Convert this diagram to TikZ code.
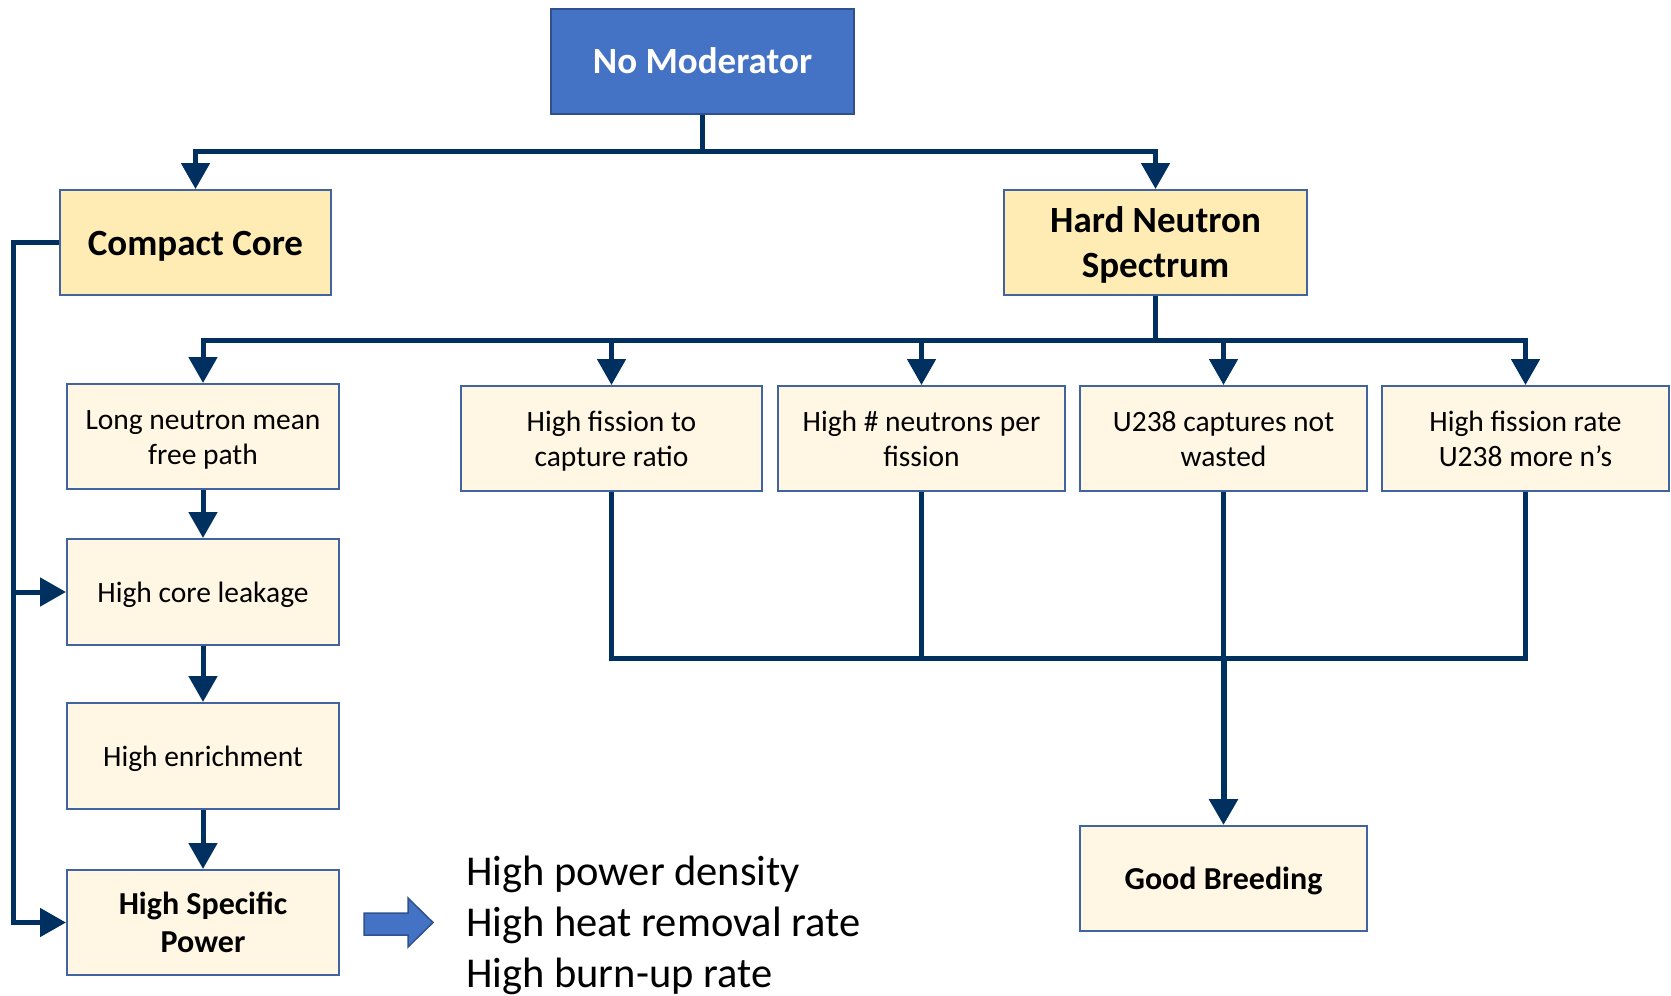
\documentclass[tikz,border=0pt]{standalone}
\usepackage{fontspec}
\setmainfont{Carlito}
\usetikzlibrary{arrows.meta}
\definecolor{navy}{HTML}{00305F}
\definecolor{boxborder}{HTML}{41649F}
\definecolor{lightfill}{HTML}{FFF7E3}
\definecolor{darkfill}{HTML}{FFECB5}
\definecolor{topfill}{HTML}{4472C4}
\definecolor{topborder}{HTML}{2F528F}
\newcommand\dn[1]{\raisebox{-3.5pt}[\height][\depth]{\begin{tabular}{@{}c@{}}#1\end{tabular}}}
\tikzset{
  box/.style={draw=boxborder, line width=2pt, fill=lightfill, inner sep=0pt,
    minimum width=#1, minimum height=105pt, font=\fontsize{29.5}{34.5}\selectfont},
  box/.default=287pt,
  headbox/.style={box=#1, fill=darkfill, font=\fontsize{37}{45}\selectfont\bfseries},
  boldbox/.style={box=#1, font=\fontsize{32}{38.5}\selectfont\bfseries},
  conn/.style={draw=navy, line width=5pt},
  arr/.style={conn, -{Triangle[width=28pt,length=26pt]}},
}
\begin{document}
\begin{tikzpicture}[x=1pt,y=-1pt]
\useasboundingbox (0,0) rectangle (1671,996);
% top
\node[box=303pt, fill=topfill, draw=topborder, text=white, font=\fontsize{37}{45}\selectfont\bfseries] (nomod) at (702.5,61) {\dn{No Moderator}};
\node[headbox=271pt] (compact) at (195.5,242.5) {\dn{Compact Core}};
\node[headbox=303pt] (hard) at (1155.5,242.5) {\dn{Hard Neutron\\Spectrum}};
% left column
\node[box=272pt] (lnm) at (203,436.5) {\dn{Long neutron mean\\free path}};
\node[box=272pt, minimum height=106pt] (leak) at (203,592) {\dn{High core leakage}};
\node[box=272pt, minimum height=106pt] (enr) at (203,756) {\dn{High enrichment}};
\node[boldbox=272pt] (hsp) at (203,922.5) {\dn{High Specific\\Power}};
% right row
\node[box=301pt] (fc) at (611.5,438.5) {\dn{High fission to\\capture ratio}};
\node[box] (nn) at (921.5,438.5) {\dn{High \# neutrons per\\fission}};
\node[box] (u238) at (1223.5,438.5) {\dn{U238 captures not\\wasted}};
\node[box] (hfr) at (1525.5,438.5) {\dn{High fission rate\\U238 more n’s}};
\node[boldbox=287pt] (gb) at (1223.5,878.5) {\dn{Good Breeding}};
% connectors top
\coordinate (b1) at (702.5,151);
\draw[conn] (nomod.south) -- (b1);
\draw[arr] (b1) -| (compact.north);
\draw[arr] (b1) -| (hard.north);
% second bus
\coordinate (b2) at (1155.5,340);
\draw[conn] (hard.south) -- (b2);
\draw[arr] (b2) -| (lnm.north);
\draw[arr] (b2) -| (fc.north);
\draw[arr] (b2) -| (nn.north);
\draw[arr] (b2) -| (u238.north);
\draw[arr] (b2) -| (hfr.north);
% left chain
\draw[arr] (lnm.south) -- (leak.north);
\draw[arr] (leak.south) -- (enr.north);
\draw[arr] (enr.south) -- (hsp.north);
\coordinate (lx) at (13,0);
\draw[arr] (compact.west) -- (compact.west -| lx) |- (hsp.west);
\draw[arr] (lx |- leak.west) -- (leak.west);
% bottom bus
\coordinate (b3) at (1223.5,658);
\draw[conn] (fc.south) |- (b3) -| (hfr.south);
\draw[conn] (nn.south) -- (nn.south |- b3);
\draw[conn] (u238.south) -- (b3);
\draw[arr, line width=6pt] (b3) -- (gb.north);
% block arrow
\draw[fill=topfill, draw=topborder, line width=1.5pt] (364,913) -- (408,913) -- (408,898) -- (433,922.5) -- (408,947) -- (408,935) -- (364,935) -- cycle;
\node[anchor=west, align=left, inner sep=0pt, font=\fontsize{42.5}{51}\selectfont] (txt) at (466,925) {High power density\\High heat removal rate\\High burn-up rate};
\end{tikzpicture}
\end{document}
